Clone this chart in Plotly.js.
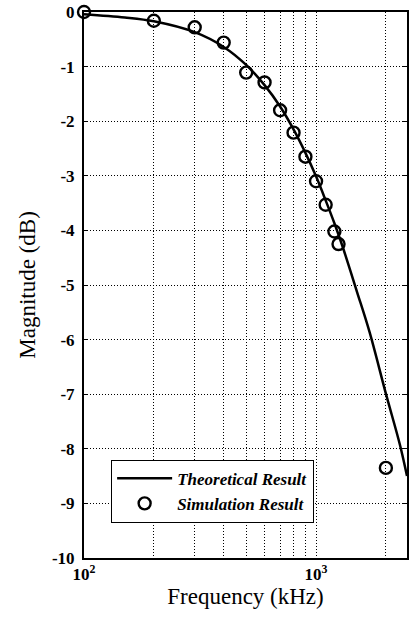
<!DOCTYPE html>
<html>
<head>
<meta charset="utf-8">
<script src="https://cdn.plot.ly/plotly-3.0.1.min.js"></script>
<style>
html,body{margin:0;padding:0;background:#fff;}
#chart{width:409px;height:618px;}
</style>
</head>
<body>
<div id="chart"></div>
<script>
// Theoretical curve
var theoFreq = [100, 150, 200, 300, 400, 500, 600, 700, 800, 900, 1000, 1100, 1200, 1300, 1500, 1700, 2000, 2300, 2466];
var theoMag  = [-0.04, -0.10, -0.17, -0.37, -0.64, -0.97, -1.34, -1.73, -2.15, -2.58, -3.01, -3.45, -3.87, -4.29, -5.12, -5.86, -6.99, -7.93, -8.50];

// Simulation points
var simFreq = [100, 200, 300, 400, 500, 600, 700, 800, 900, 1000, 1100, 1200, 1250, 2000];
var simMag  = [0.0, -0.16, -0.28, -0.56, -1.11, -1.29, -1.80, -2.21, -2.65, -3.10, -3.53, -4.02, -4.25, -8.35];

var xTickVals = [100, 200, 300, 400, 500, 600, 700, 800, 900, 1000, 2000];
var xTickText = ['<b>10<sup>2</sup></b>', '', '', '', '', '', '', '', '', '<b>10<sup>3</sup></b>', ''];
var yTickVals = [0, -1, -2, -3, -4, -5, -6, -7, -8, -9, -10];
var yTickText = ['<b>0</b>', '<b>-1</b>', '<b>-2</b>', '<b>-3</b>', '<b>-4</b>', '<b>-5</b>', '<b>-6</b>', '<b>-7</b>', '<b>-8</b>', '<b>-9</b>', '<b>-10</b>'];

var serif = '"Liberation Serif", "Times New Roman", serif';

var traces = [
  {
    x: theoFreq, y: theoMag, type: 'scatter', mode: 'lines',
    name: '<b><i>Theoretical Result</i></b>',
    line: {color: '#000', width: 2.5, shape: 'spline'}
  },
  {
    x: simFreq, y: simMag, type: 'scatter', mode: 'markers',
    name: '<b><i>Simulation Result</i></b>',
    marker: {symbol: 'circle-open', size: 12, color: '#000', line: {width: 2.4, color: '#000'}},
    cliponaxis: false
  }
];

var layout = {
  width: 409, height: 618,
  margin: {l: 84, r: 2, t: 12, b: 60},
  paper_bgcolor: '#fff', plot_bgcolor: '#fff',
  showlegend: true,
  font: {family: serif, color: '#000', size: 15},
  xaxis: {
    type: 'log', range: [2, Math.log10(2466)],
    tickvals: xTickVals, ticktext: xTickText,
    tickfont: {family: serif, size: 17, color: '#000'},
    showgrid: true, gridcolor: '#000', gridwidth: 1, griddash: '1px,2px',
    showline: true, linecolor: '#000', linewidth: 2, mirror: true,
    ticks: '', zeroline: false, ticklabelstandoff: 0,
    title: {text: 'Frequency (kHz)', font: {family: serif, size: 23, color: '#000'}, standoff: 2}
  },
  yaxis: {
    range: [-10, 0],
    tickvals: yTickVals, ticktext: yTickText,
    tickfont: {family: serif, size: 17, color: '#000'},
    showgrid: true, gridcolor: '#000', gridwidth: 1, griddash: '1px,2px',
    showline: true, linecolor: '#000', linewidth: 2, mirror: 'ticks',
    ticks: 'inside', ticklen: 4, tickcolor: '#000', tickwidth: 1,
    zeroline: false, ticklabelstandoff: 4,
    title: {text: 'Magnitude (dB)', font: {family: serif, size: 23, color: '#000'}, standoff: 10}
  },
  legend: {
    x: 0.084, y: 0.18, xanchor: 'left', yanchor: 'top',
    bgcolor: '#fff', bordercolor: '#000', borderwidth: 1,
    font: {family: serif, size: 17, color: '#000'},
    tracegroupgap: 0, itemwidth: 55
  }
};

Plotly.newPlot('chart', traces, layout, {staticPlot: true, displayModeBar: false});
</script>
</body>
</html>
